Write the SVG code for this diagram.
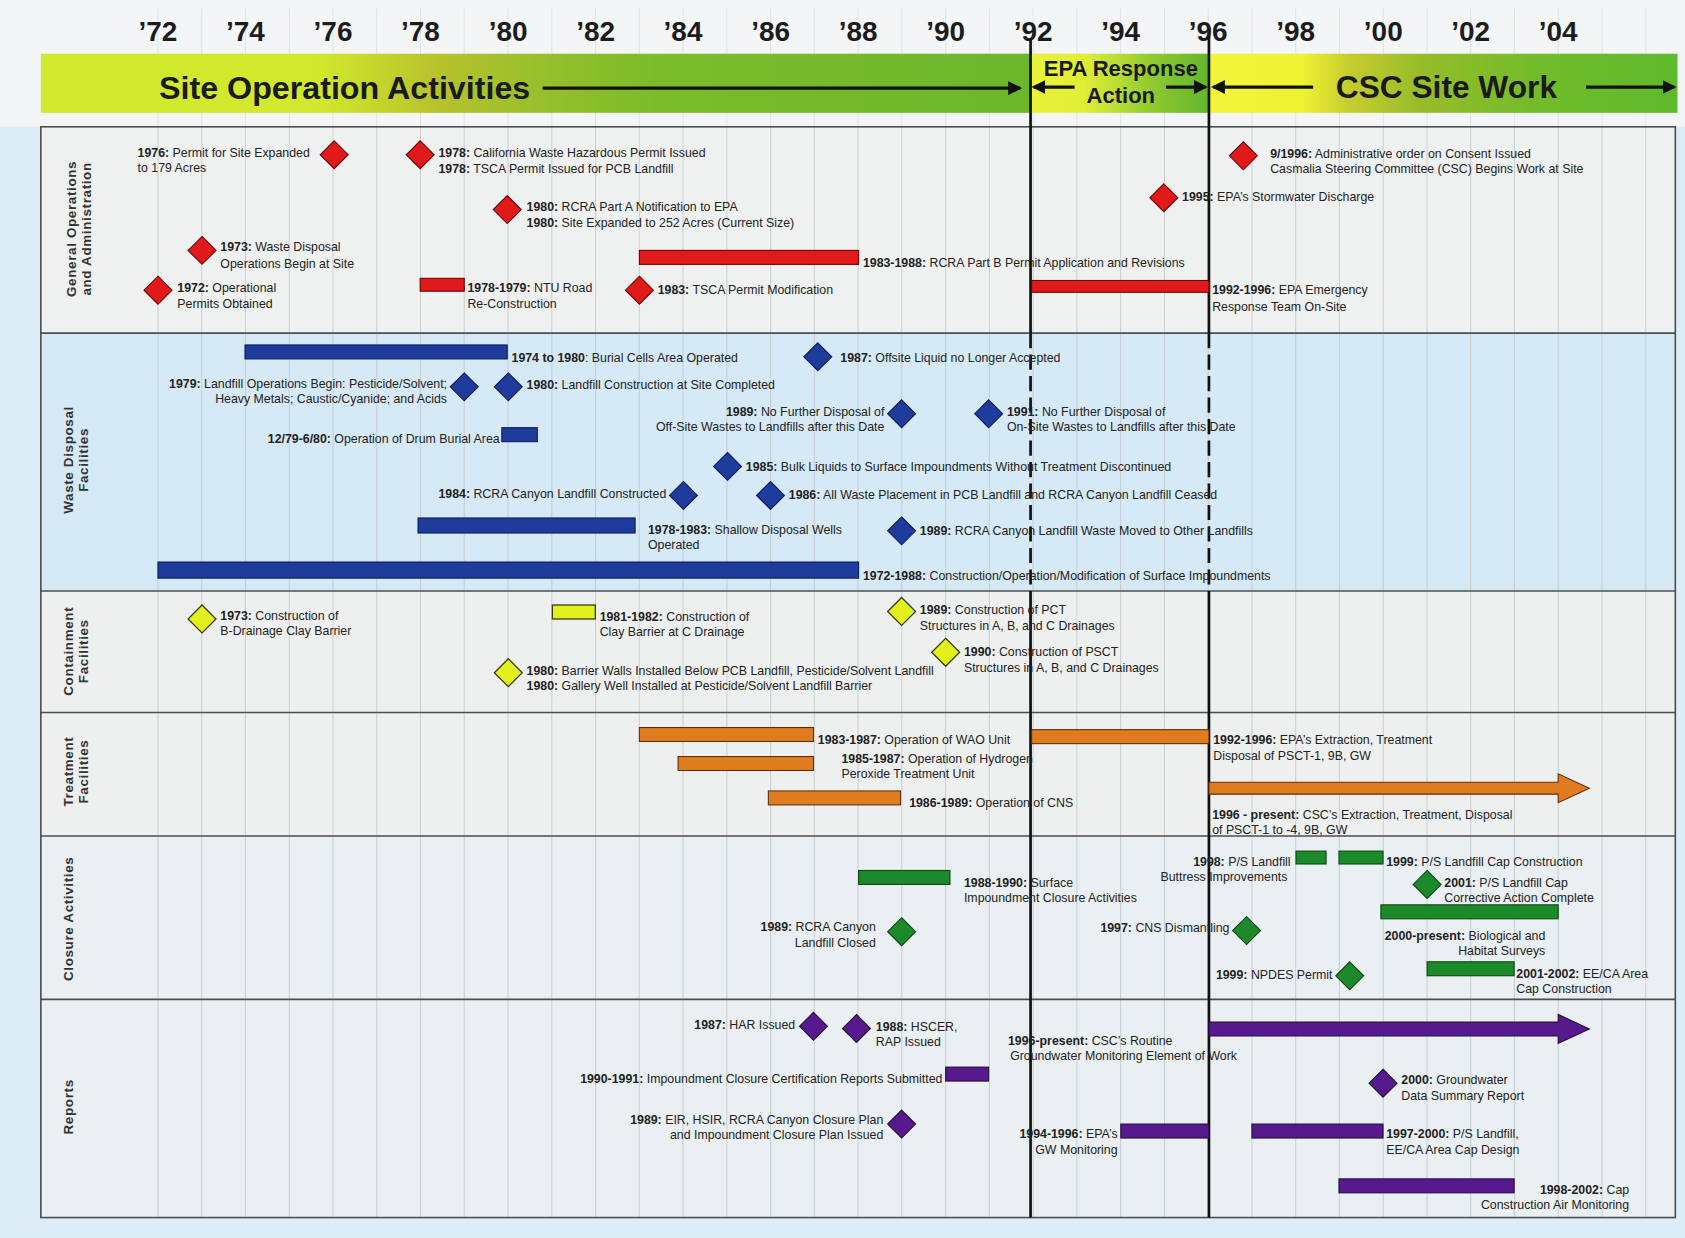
<svg xmlns="http://www.w3.org/2000/svg" width="1685" height="1238" viewBox="0 0 1685 1238">
<defs>
<style>
.t{font-family:"Liberation Sans",Arial,Helvetica,sans-serif;font-size:11.5px;fill:#222}
.b{font-weight:bold}
.e{text-anchor:end}
.yr{font-family:"Liberation Sans",Arial,sans-serif;font-weight:bold;font-size:26px;fill:#1c1c1c;text-anchor:middle}
.ban{font-family:"Liberation Sans",Arial,sans-serif;font-weight:bold;fill:#1a1a1a}
.sec{font-family:"Liberation Sans",Arial,sans-serif;font-weight:bold;font-size:12.5px;letter-spacing:0.6px;fill:#333;text-anchor:middle}
.grid{stroke:#c3c9ce;stroke-width:0.8;fill:none}
.gtop{stroke:#dde1e4;stroke-width:0.8;fill:none}
.sep{stroke:#4d4d4d;stroke-width:1.5;fill:none}
.vl{stroke:#111;stroke-width:2.5;fill:none}
.vd{stroke:#111;stroke-width:2.5;fill:none;stroke-dasharray:14 6}
.barr{stroke:#111;stroke-width:3;fill:none;marker-end:url(#ah)}
.red{fill:#e01a1a;stroke:#6e0000;stroke-width:1}
.blu{fill:#1e3c9c;stroke:#0b1a55;stroke-width:1}
.yel{fill:#e2f01e;stroke:#3a3a10;stroke-width:1.2}
.org{fill:#e07c1e;stroke:#5a3010;stroke-width:1}
.grn{fill:#1c8a2a;stroke:#0b4412;stroke-width:1}
.pur{fill:#561a8c;stroke:#28093f;stroke-width:1}
</style>
<path id="d" d="M0,-13L13,0L0,13L-13,0Z"/>
<marker id="ah" viewBox="0 0 12 12" refX="10" refY="6" markerWidth="13" markerHeight="13" markerUnits="userSpaceOnUse" orient="auto"><path d="M0,0L12,6L0,12Z" fill="#111"/></marker>
<linearGradient id="g1" gradientUnits="userSpaceOnUse" x1="38" y1="0" x2="959" y2="0">
<stop offset="0" stop-color="#d0ea2e"/><stop offset="0.28" stop-color="#d2e82c"/><stop offset="0.4" stop-color="#b8c22c"/><stop offset="0.5" stop-color="#98c02c"/><stop offset="0.62" stop-color="#7cbc2a"/><stop offset="1" stop-color="#6cb62c"/>
</linearGradient>
<linearGradient id="g2" gradientUnits="userSpaceOnUse" x1="959" y1="0" x2="1125" y2="0">
<stop offset="0" stop-color="#eaf23c"/><stop offset="0.3" stop-color="#e0ee36"/><stop offset="0.7" stop-color="#8cc830"/><stop offset="1" stop-color="#64b52c"/>
</linearGradient>
<linearGradient id="g3" gradientUnits="userSpaceOnUse" x1="1125" y1="0" x2="1561" y2="0">
<stop offset="0" stop-color="#f2f43a"/><stop offset="0.2" stop-color="#eef232"/><stop offset="0.3" stop-color="#c6cc2e"/><stop offset="0.45" stop-color="#98bc2a"/><stop offset="0.7" stop-color="#72bc2a"/><stop offset="1" stop-color="#5eb92c"/>
</linearGradient>
</defs>
<g transform="scale(1.07462)">
<g id="background">
<rect x="0" y="0" width="1568" height="1152" fill="#dcedf8"/>
<rect x="0" y="0" width="1568" height="118" fill="#f3f5f6"/>
<rect x="38" y="118" width="1521" height="192" fill="#eff1f1"/>
<rect x="38" y="310" width="1521" height="240" fill="#d6e9f6"/>
<rect x="38" y="550" width="1521" height="113" fill="#eef0ef"/>
<rect x="38" y="663" width="1521" height="115" fill="#eef0ef"/>
<rect x="38" y="778" width="1521" height="152" fill="#e9eff2"/>
<rect x="38" y="930" width="1521" height="203" fill="#eaeff1"/>
<path class="gtop" d="M147,8V118M187.7,8V118M228.4,8V118M269.2,8V118M309.9,8V118M350.6,8V118M391.3,8V118M432,8V118M472.8,8V118M513.5,8V118M554.2,8V118M594.9,8V118M635.6,8V118M676.4,8V118M717.1,8V118M757.8,8V118M798.5,8V118M839.2,8V118M880,8V118M920.7,8V118M961.4,8V118M1002.1,8V118M1042.8,8V118M1083.6,8V118M1124.3,8V118M1165,8V118M1205.7,8V118M1246.4,8V118M1287.2,8V118M1327.9,8V118M1368.6,8V118M1409.3,8V118M1450,8V118M1490.8,8V118M1531.5,8V118"/>
<path class="grid" d="M147,118V1133M187.7,118V1133M228.4,118V1133M269.2,118V1133M309.9,118V1133M350.6,118V1133M391.3,118V1133M432,118V1133M472.8,118V1133M513.5,118V1133M554.2,118V1133M594.9,118V1133M635.6,118V1133M676.4,118V1133M717.1,118V1133M757.8,118V1133M798.5,118V1133M839.2,118V1133M880,118V1133M920.7,118V1133M961.4,118V1133M1002.1,118V1133M1042.8,118V1133M1083.6,118V1133M1124.3,118V1133M1165,118V1133M1205.7,118V1133M1246.4,118V1133M1287.2,118V1133M1327.9,118V1133M1368.6,118V1133M1409.3,118V1133M1450,118V1133M1490.8,118V1133M1531.5,118V1133"/>
</g>
<g id="years">
<text class="yr" x="147" y="38">’72</text>
<text class="yr" x="228.4" y="38">’74</text>
<text class="yr" x="309.9" y="38">’76</text>
<text class="yr" x="391.3" y="38">’78</text>
<text class="yr" x="472.8" y="38">’80</text>
<text class="yr" x="554.2" y="38">’82</text>
<text class="yr" x="635.6" y="38">’84</text>
<text class="yr" x="717.1" y="38">’86</text>
<text class="yr" x="798.5" y="38">’88</text>
<text class="yr" x="880" y="38">’90</text>
<text class="yr" x="961.4" y="38">’92</text>
<text class="yr" x="1042.8" y="38">’94</text>
<text class="yr" x="1124.3" y="38">’96</text>
<text class="yr" x="1205.7" y="38">’98</text>
<text class="yr" x="1287.2" y="38">’00</text>
<text class="yr" x="1368.6" y="38">’02</text>
<text class="yr" x="1450" y="38">’04</text>
</g>
<g id="banner">
<rect x="38" y="50" width="921" height="55" fill="url(#g1)"/>
<rect x="959" y="50" width="166" height="55" fill="url(#g2)"/>
<rect x="1125" y="50" width="436" height="55" fill="url(#g3)"/>
<text class="ban" x="148" y="92" font-size="30">Site Operation Activities</text>
<text class="ban" x="1043" y="71" font-size="20.5" text-anchor="middle">EPA Response</text>
<text class="ban" x="1043" y="96" font-size="20.5" text-anchor="middle">Action</text>
<text class="ban" x="1243" y="91" font-size="29.5">CSC Site Work</text>
</g>
<g id="frame">
<rect x="38" y="118" width="1521" height="1015" class="sep"/>
<path class="sep" d="M38,310H1559M38,550H1559M38,663H1559M38,778H1559M38,930H1559"/>
</g>
<g id="section-labels">
<text class="sec" transform="translate(0,213) rotate(-90)"><tspan x="0" y="70.5">General Operations</tspan><tspan x="0" y="84.5">and Administration</tspan></text>
<text class="sec" transform="translate(0,428) rotate(-90)"><tspan x="0" y="67.5">Waste Disposal</tspan><tspan x="0" y="81.5">Facilities</tspan></text>
<text class="sec" transform="translate(0,606) rotate(-90)"><tspan x="0" y="67.5">Containment</tspan><tspan x="0" y="81.5">Facilities</tspan></text>
<text class="sec" transform="translate(0,718) rotate(-90)"><tspan x="0" y="67.5">Treatment</tspan><tspan x="0" y="81.5">Facilities</tspan></text>
<text class="sec" transform="translate(0,855) rotate(-90)"><tspan x="0" y="68">Closure Activities</tspan></text>
<text class="sec" transform="translate(0,1030) rotate(-90)"><tspan x="0" y="68">Reports</tspan></text>
</g>
<g id="connectors">
<path class="barr" d="M505,82H949"/>
<path class="barr" d="M1000,81H962"/>
<path class="barr" d="M1085,81H1122"/>
<path class="barr" d="M1222,81H1129"/>
<path class="barr" d="M1476,81H1558"/>
<path class="vl" d="M959,36V310M959,550V1133M1125,33V310M1125,550V1133"/>
<path class="vd" d="M959,310V550M1125,310V550"/>
</g>
<!-- General Operations -->
<g id="go-1976"><use href="#d" x="311" y="144" class="red"/><text class="t" x="128" y="146"><tspan class="b">1976:</tspan> Permit for Site Expanded</text><text class="t" x="128" y="160">to 179 Acres</text></g>
<g id="go-1978"><use href="#d" x="391" y="144" class="red"/><text class="t" x="408" y="146"><tspan class="b">1978:</tspan> California Waste Hazardous Permit Issued</text><text class="t" x="408" y="161"><tspan class="b">1978:</tspan> TSCA Permit Issued for PCB Landfill</text></g>
<g id="go-1980"><use href="#d" x="472" y="195" class="red"/><text class="t" x="490" y="196"><tspan class="b">1980:</tspan> RCRA Part A Notification to EPA</text><text class="t" x="490" y="211"><tspan class="b">1980:</tspan> Site Expanded to 252 Acres (Current Size)</text></g>
<g id="go-1973"><use href="#d" x="188" y="233" class="red"/><text class="t" x="205" y="234"><tspan class="b">1973:</tspan> Waste Disposal</text><text class="t" x="205" y="249">Operations Begin at Site</text></g>
<g id="go-1972"><use href="#d" x="147" y="270" class="red"/><text class="t" x="165" y="272"><tspan class="b">1972:</tspan> Operational</text><text class="t" x="165" y="287">Permits Obtained</text></g>
<g id="go-1978-1979"><rect x="391" y="259" width="41" height="12" class="red"/><text class="t" x="435" y="272"><tspan class="b">1978-1979:</tspan> NTU Road</text><text class="t" x="435" y="287">Re-Construction</text></g>
<g id="go-1983-1988"><rect x="595" y="233" width="204" height="13" class="red"/><text class="t" x="803" y="248"><tspan class="b">1983-1988:</tspan> RCRA Part B Permit Application and Revisions</text></g>
<g id="go-1983"><use href="#d" x="595" y="270" class="red"/><text class="t" x="612" y="274"><tspan class="b">1983:</tspan> TSCA Permit Modification</text></g>
<g id="go-1992-1996"><rect x="960" y="261" width="165" height="11" class="red"/><text class="t" x="1128" y="274"><tspan class="b">1992-1996:</tspan> EPA Emergency</text><text class="t" x="1128" y="289">Response Team On-Site</text></g>
<g id="go-1995"><use href="#d" x="1083" y="184" class="red"/><text class="t" x="1100" y="187"><tspan class="b">1995:</tspan>  EPA’s Stormwater Discharge</text></g>
<g id="go-9-1996"><use href="#d" x="1157" y="145" class="red"/><text class="t" x="1182" y="147"><tspan class="b">9/1996:</tspan>  Administrative order on Consent Issued</text><text class="t" x="1182" y="161">Casmalia Steering Committee (CSC) Begins Work at Site</text></g>
<!-- Waste Disposal -->
<g id="wd-1974-1980"><rect x="228" y="321" width="244" height="13" class="blu"/><text class="t" x="476" y="337"><tspan class="b">1974 to 1980</tspan>: Burial Cells Area Operated</text></g>
<g id="wd-1987"><use href="#d" x="761" y="332" class="blu"/><text class="t" x="782" y="337"><tspan class="b">1987:</tspan> Offsite Liquid no Longer Accepted</text></g>
<g id="wd-1979"><use href="#d" x="432" y="360" class="blu"/><text class="t e" x="416" y="361"><tspan class="b">1979:</tspan> Landfill Operations Begin: Pesticide/Solvent;</text><text class="t e" x="416" y="375">Heavy Metals; Caustic/Cyanide; and Acids</text></g>
<g id="wd-1980"><use href="#d" x="473" y="360" class="blu"/><text class="t" x="490" y="362"><tspan class="b">1980:</tspan> Landfill Construction at Site Completed</text></g>
<g id="wd-1989a"><use href="#d" x="839" y="385" class="blu"/><text class="t e" x="823" y="387"><tspan class="b">1989:</tspan> No Further Disposal of</text><text class="t e" x="823" y="401">Off-Site Wastes to Landfills after this Date</text></g>
<g id="wd-1991"><use href="#d" x="920" y="385" class="blu"/><text class="t" x="937" y="387"><tspan class="b">1991:</tspan> No Further Disposal of</text><text class="t" x="937" y="401">On-Site Wastes to Landfills after this Date</text></g>
<g id="wd-1279-680"><rect x="467" y="398" width="33" height="13" class="blu"/><text class="t e" x="465" y="412"><tspan class="b">12/79-6/80:</tspan> Operation of Drum Burial Area</text></g>
<g id="wd-1985"><use href="#d" x="677" y="434" class="blu"/><text class="t" x="694" y="438"><tspan class="b">1985:</tspan> Bulk Liquids to Surface Impoundments Without Treatment Discontinued</text></g>
<g id="wd-1984"><use href="#d" x="636" y="461" class="blu"/><text class="t e" x="620" y="463"><tspan class="b">1984:</tspan> RCRA Canyon Landfill Constructed</text></g>
<g id="wd-1986"><use href="#d" x="717" y="461" class="blu"/><text class="t" x="734" y="464"><tspan class="b">1986:</tspan> All Waste Placement in PCB Landfill and RCRA Canyon Landfill Ceased</text></g>
<g id="wd-1978-1983"><rect x="389" y="482" width="202" height="14" class="blu"/><text class="t" x="603" y="497"><tspan class="b">1978-1983:</tspan> Shallow Disposal Wells</text><text class="t" x="603" y="511">Operated</text></g>
<g id="wd-1989b"><use href="#d" x="839" y="494" class="blu"/><text class="t" x="856" y="498"><tspan class="b">1989:</tspan> RCRA Canyon Landfill Waste Moved to Other Landfills</text></g>
<g id="wd-1972-1988"><rect x="147" y="523" width="652" height="15" class="blu"/><text class="t" x="803" y="540"><tspan class="b">1972-1988:</tspan> Construction/Operation/Modification of Surface Impoundments</text></g>
<!-- Containment -->
<g id="cf-1973"><use href="#d" x="188" y="576" class="yel"/><text class="t" x="205" y="577"><tspan class="b">1973:</tspan> Construction of</text><text class="t" x="205" y="591">B-Drainage Clay Barrier</text></g>
<g id="cf-1981-1982"><rect x="514" y="563" width="40" height="13" class="yel"/><text class="t" x="558" y="578"><tspan class="b">1981-1982:</tspan> Construction of</text><text class="t" x="558" y="592">Clay Barrier at C Drainage</text></g>
<g id="cf-1989"><use href="#d" x="839" y="569" class="yel"/><text class="t" x="856" y="571"><tspan class="b">1989:</tspan> Construction of PCT</text><text class="t" x="856" y="586">Structures in A, B, and C Drainages</text></g>
<g id="cf-1990"><use href="#d" x="880" y="607" class="yel"/><text class="t" x="897" y="610"><tspan class="b">1990:</tspan> Construction of PSCT</text><text class="t" x="897" y="625">Structures in A, B, and C Drainages</text></g>
<g id="cf-1980"><use href="#d" x="473" y="626" class="yel"/><text class="t" x="490" y="628"><tspan class="b">1980:</tspan> Barrier Walls Installed Below PCB Landfill, Pesticide/Solvent Landfill</text><text class="t" x="490" y="642"><tspan class="b">1980:</tspan> Gallery Well Installed at Pesticide/Solvent Landfill Barrier</text></g>
<!-- Treatment -->
<g id="tf-1983-1987"><rect x="595" y="677" width="162" height="13" class="org"/><text class="t" x="761" y="692"><tspan class="b">1983-1987:</tspan> Operation of WAO Unit</text></g>
<g id="tf-1985-1987"><rect x="631" y="704" width="126" height="13" class="org"/><text class="t" x="783" y="710"><tspan class="b">1985-1987:</tspan> Operation of Hydrogen</text><text class="t" x="783" y="724">Peroxide Treatment Unit</text></g>
<g id="tf-1986-1989"><rect x="715" y="736" width="123" height="13" class="org"/><text class="t" x="846" y="751"><tspan class="b">1986-1989:</tspan> Operation of CNS</text></g>
<g id="tf-1992-1996"><rect x="960" y="679" width="165" height="13" class="org"/><text class="t" x="1129" y="692"><tspan class="b">1992-1996:</tspan> EPA’s Extraction, Treatment</text><text class="t" x="1129" y="707">Disposal of PSCT-1, 9B, GW</text></g>
<g id="tf-1996-present"><path d="M1125,728H1450V720L1479,733.5L1450,747V739H1125Z" class="org"/><text class="t" x="1128" y="762"><tspan class="b">1996 - present:</tspan> CSC’s Extraction, Treatment, Disposal</text><text class="t" x="1128" y="776">of PSCT-1 to -4, 9B, GW</text></g>
<!-- Closure -->
<g id="ca-1988-1990"><rect x="799" y="810" width="85" height="13" class="grn"/><text class="t" x="897" y="825"><tspan class="b">1988-1990:</tspan> Surface</text><text class="t" x="897" y="839">Impoundment Closure Activities</text></g>
<g id="ca-1989"><use href="#d" x="839" y="867" class="grn"/><text class="t e" x="815" y="866"><tspan class="b">1989:</tspan> RCRA Canyon</text><text class="t e" x="815" y="881">Landfill Closed</text></g>
<g id="ca-1998"><rect x="1206" y="792" width="28" height="12" class="grn"/><text class="t e" x="1201" y="806"><tspan class="b">1998:</tspan> P/S Landfill</text><text class="t e" x="1198" y="820">Buttress Improvements</text></g>
<g id="ca-1999a"><rect x="1246" y="792" width="41" height="12" class="grn"/><text class="t" x="1290" y="806"><tspan class="b">1999:</tspan> P/S Landfill Cap Construction</text></g>
<g id="ca-2001"><use href="#d" x="1328" y="823" class="grn"/><text class="t" x="1344" y="825"><tspan class="b">2001:</tspan> P/S Landfill Cap</text><text class="t" x="1344" y="839">Corrective Action Complete</text></g>
<g id="ca-2000-present"><rect x="1285" y="842" width="165" height="13" class="grn"/><text class="t e" x="1438" y="875"><tspan class="b">2000-present:</tspan> Biological and</text><text class="t e" x="1438" y="889">Habitat Surveys</text></g>
<g id="ca-1997"><use href="#d" x="1160" y="866" class="grn"/><text class="t e" x="1144" y="867"><tspan class="b">1997:</tspan> CNS Dismantling</text></g>
<g id="ca-1999b"><use href="#d" x="1256" y="908" class="grn"/><text class="t e" x="1240" y="911"><tspan class="b">1999:</tspan> NPDES Permit</text></g>
<g id="ca-2001-2002"><rect x="1328" y="895" width="81" height="13" class="grn"/><text class="t" x="1411" y="910"><tspan class="b">2001-2002:</tspan> EE/CA Area</text><text class="t" x="1411" y="924">Cap Construction</text></g>
<!-- Reports -->
<g id="rp-1987"><use href="#d" x="757" y="955" class="pur"/><text class="t e" x="740" y="958"><tspan class="b">1987:</tspan> HAR Issued</text></g>
<g id="rp-1988"><use href="#d" x="797" y="957" class="pur"/><text class="t" x="815" y="959"><tspan class="b">1988:</tspan> HSCER,</text><text class="t" x="815" y="973">RAP Issued</text></g>
<g id="rp-1996-present"><path d="M1125,951H1450V944L1479,957.5L1450,971V964H1125Z" class="pur"/><text class="t" x="938" y="972"><tspan class="b">1996-present:</tspan> CSC’s Routine</text><text class="t" x="940" y="986">Groundwater Monitoring Element of Work</text></g>
<g id="rp-1990-1991"><rect x="880" y="993" width="40" height="13" class="pur"/><text class="t e" x="877" y="1008"><tspan class="b">1990-1991:</tspan> Impoundment Closure Certification Reports Submitted</text></g>
<g id="rp-2000"><use href="#d" x="1287" y="1008" class="pur"/><text class="t" x="1304" y="1009"><tspan class="b">2000:</tspan> Groundwater</text><text class="t" x="1304" y="1024">Data Summary Report</text></g>
<g id="rp-1989"><use href="#d" x="839" y="1046" class="pur"/><text class="t e" x="822" y="1046"><tspan class="b">1989:</tspan> EIR, HSIR, RCRA Canyon Closure Plan</text><text class="t e" x="822" y="1060">and Impoundment Closure Plan Issued</text></g>
<g id="rp-1994-1996"><rect x="1043" y="1046" width="82" height="13" class="pur"/><text class="t e" x="1040" y="1059"><tspan class="b">1994-1996:</tspan> EPA’s</text><text class="t e" x="1040" y="1074">GW Monitoring</text></g>
<g id="rp-1997-2000"><rect x="1165" y="1046" width="122" height="13" class="pur"/><text class="t" x="1290" y="1059"><tspan class="b">1997-2000:</tspan> P/S Landfill,</text><text class="t" x="1290" y="1074">EE/CA Area Cap Design</text></g>
<g id="rp-1998-2002"><rect x="1246" y="1097" width="163" height="13" class="pur"/><text class="t e" x="1516" y="1111"><tspan class="b">1998-2002:</tspan> Cap</text><text class="t e" x="1516" y="1125">Construction Air Monitoring</text></g>
</g>
</svg>
